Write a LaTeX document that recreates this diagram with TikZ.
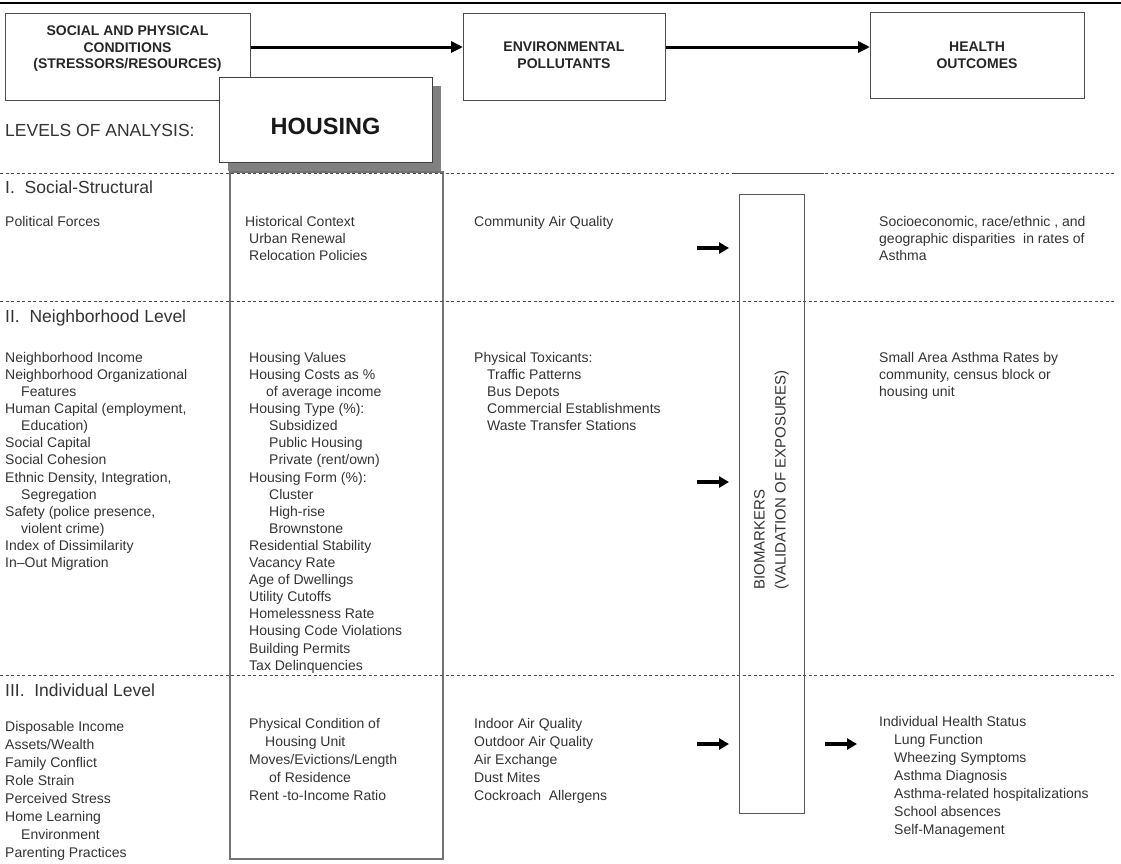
\documentclass[tikz,border=0pt]{standalone}
\usepackage{fontspec}
\setmainfont{Liberation Sans}
\usetikzlibrary{arrows.meta}

\begin{document}
\begin{tikzpicture}[x=1pt, y=-1pt,
                    hdr/.style={draw=black!70, line width=1.3pt, rectangle, anchor=north west, inner sep=0pt},
                    hdrtext/.style={anchor=north, align=center, font=\fontsize{14}{16.5}\selectfont\bfseries, text=black!85, inner sep=0pt},
                    lvl/.style={anchor=base west, font=\fontsize{17.5}{20}\selectfont, text=black!80, inner sep=0pt},
                    item/.style={anchor=north west, align=left, font=\fontsize{14}{17.1}\selectfont, text=black!80, inner sep=0pt},
                    itemlow/.style={item, font=\fontsize{14}{18}\selectfont},
                    sep/.style={dash pattern=on 3pt off 2.5pt, line width=0.9pt, draw=black!70},
                    bigarrow/.style={-{Triangle[length=12pt, width=11pt]}, line width=3pt, draw=black},
                    shortarrow/.style={-{Triangle[length=10pt, width=11pt]}, line width=3.5pt, draw=black}
                ]
                \useasboundingbox (0,0) rectangle (1121,863);
                \draw[line width=1.6pt] (0,3) -- (1121,3);

                % Header boxes
                \node[hdr, minimum width=245pt, minimum height=87pt] (social) at (5,13) {};
                \node[hdrtext] (socialtxt) at (127.5,26) {SOCIAL AND PHYSICAL\\CONDITIONS\\(STRESSORS/RESOURCES)};
                \node[hdr, minimum width=202pt, minimum height=87pt] (env) at (463,13) {};
                \node[hdrtext] (envtxt) at (564,42) {ENVIRONMENTAL\\POLLUTANTS};
                \node[hdr, minimum width=214pt, minimum height=86pt] (health) at (870,12) {};
                \node[hdrtext] (healthtxt) at (977,42) {HEALTH\\OUTCOMES};
                \coordinate (toprow) at (0,47);
                \draw[bigarrow] (social.east |- toprow) -- (env.west |- toprow);
                \draw[bigarrow] (env.east |- toprow) -- (health.west |- toprow);

                % Housing box with shadow and column
                \fill[black!50] (228,86) rectangle (441,171);
                \node[hdr, draw=black!75, fill=white, minimum width=213pt, minimum height=85pt] (housing) at (219,77) {};
                \node[font=\fontsize{23.5}{26}\selectfont\bfseries, text=black!90] (housingtxt) at (325.5,126) {HOUSING};
                \node[hdr, draw=black!55, line width=1.8pt, minimum width=213pt, minimum height=687pt] (hcol) at (229,171) {};

                \node[lvl] (levels) at (5,136) {LEVELS OF ANALYSIS:};

                % Level separators
                \draw[sep] (0,173) -- (1116,173);
                \draw[black!70, line width=1pt] (735,173) -- (824,173);
                \draw[sep] (0,301) -- (1116,301);
                \draw[sep] (0,675) -- (1116,675);

                % Biomarkers
                \node[hdr, draw=black!65, minimum width=65pt, minimum height=619pt] (bio) at (739,194) {};
                \node[rotate=90, align=left, font=\fontsize{15}{21}\selectfont, text=black!80] (biotxt) at (771.5,480) {BIOMARKERS\\(VALIDATION OF EXPOSURES)};

                % I. Social-Structural
                \node[lvl] (lvlone) at (5,193) {I.\ \ Social-Structural};
                \node[item] (polit) at (5,216) {Political Forces};
                \node[item] (hist) at (245,216) {Historical Context\\\hspace*{4pt}Urban Renewal\\\hspace*{4pt}Relocation Policies};
                \node[item] (cair) at (474,216) {Community Air Quality};
                \node[item] (disp) at (879,216) {Socioeconomic, race/ethnic , and\\geographic disparities\ \ in rates of\\Asthma};

                % II. Neighborhood Level
                \node[lvl] (lvltwo) at (5,322) {II.\ \ Neighborhood Level};
                \node[item] (nbhd) at (5,352) {Neighborhood Income\\Neighborhood Organizational\\\hspace*{16pt}Features\\Human Capital (employment,\\\hspace*{16pt}Education)\\Social Capital\\Social Cohesion\\Ethnic Density, Integration,\\\hspace*{16pt}Segregation\\Safety (police presence,\\\hspace*{16pt}violent crime)\\Index of Dissimilarity\\In--Out Migration};
                \node[item] (hvals) at (249,352) {Housing Values\\Housing Costs as \%\\\hspace*{17pt}of average income\\Housing Type (\%):\\\hspace*{20pt}Subsidized\\\hspace*{20pt}Public Housing\\\hspace*{20pt}Private (rent/own)\\Housing Form (\%):\\\hspace*{20pt}Cluster\\\hspace*{20pt}High-rise\\\hspace*{20pt}Brownstone\\Residential Stability\\Vacancy Rate\\Age of Dwellings\\Utility Cutoffs\\Homelessness Rate\\Housing Code Violations\\Building Permits\\Tax Delinquencies};
                \node[item] (toxic) at (474,352) {Physical Toxicants:\\\hspace*{13pt}Traffic Patterns\\\hspace*{13pt}Bus Depots\\\hspace*{13pt}Commercial Establishments\\\hspace*{13pt}Waste Transfer Stations};
                \node[item] (small) at (879,352) {Small Area Asthma Rates by\\community, census block or\\housing unit};

                % III. Individual Level
                \node[lvl] (lvlthree) at (5,696) {III.\ \ Individual Level};
                \node[itemlow] (indiv) at (5,721) {Disposable Income\\Assets/Wealth\\Family Conflict\\Role Strain\\Perceived Stress\\Home Learning\\\hspace*{16pt}Environment\\Parenting Practices};
                \node[itemlow] (phys) at (249,718) {Physical Condition of\\\hspace*{16pt}Housing Unit\\Moves/Evictions/Length\\\hspace*{20pt}of Residence\\Rent -to-Income Ratio};
                \node[itemlow] (indoor) at (474,718) {Indoor Air Quality\\Outdoor Air Quality\\Air Exchange\\Dust Mites\\Cockroach\ \ Allergens};
                \node[itemlow] (status) at (879,716) {Individual Health Status\\\hspace*{15pt}Lung Function\\\hspace*{15pt}Wheezing Symptoms\\\hspace*{15pt}Asthma Diagnosis\\\hspace*{15pt}Asthma-related hospitalizations\\\hspace*{15pt}School absences\\\hspace*{15pt}Self-Management};

                % Arrows into and out of biomarkers
                \coordinate (ain1) at (697,248);
                \coordinate (ain2) at (697,482);
                \coordinate (ain3) at (697,744);
                \coordinate (aout) at (857,744);
                \draw[shortarrow] (ain1) -- ([xshift=-10pt]bio.west |- ain1);
                \draw[shortarrow] (ain2) -- ([xshift=-10pt]bio.west |- ain2);
                \draw[shortarrow] (ain3) -- ([xshift=-10pt]bio.west |- ain3);
                \draw[shortarrow] ([xshift=20pt]bio.east |- aout) -- (aout);
            \end{tikzpicture}
\end{document}
